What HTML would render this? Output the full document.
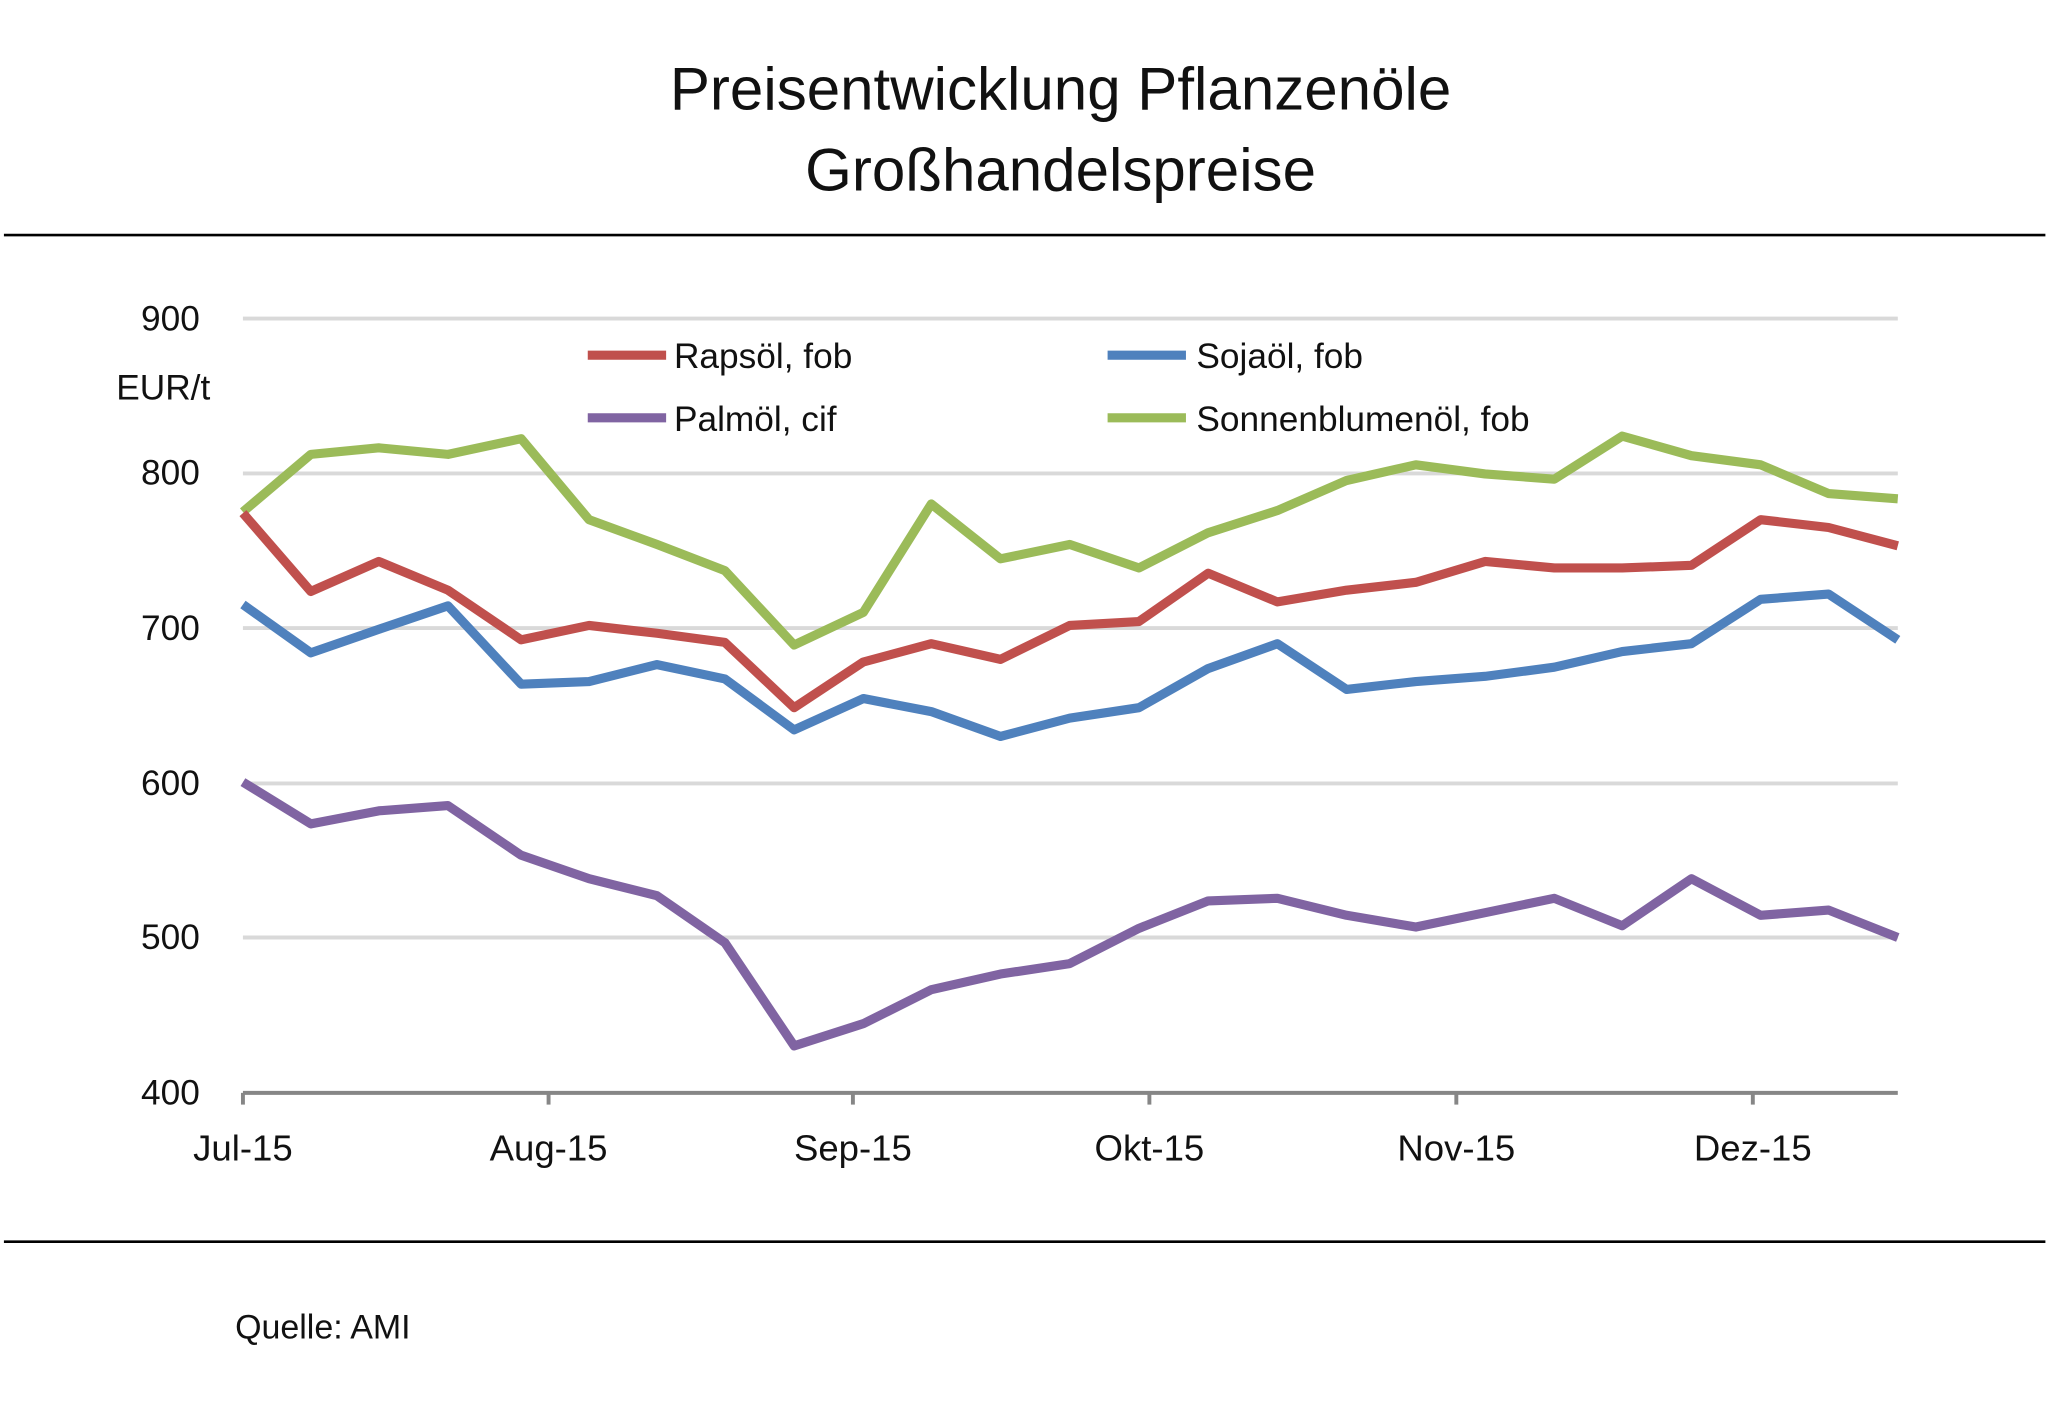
<!DOCTYPE html>
<html><head><meta charset="utf-8"><style>
html,body{margin:0;padding:0;background:#fff;}
svg{display:block;}
text{font-family:"Liberation Sans",sans-serif;fill:#111;}
</style></head><body>
<svg width="2048" height="1401" viewBox="0 0 1568 1073" preserveAspectRatio="none" xmlns="http://www.w3.org/2000/svg">
<rect width="1568" height="1073" fill="#fff"/>
<text x="812" y="84" font-size="46" text-anchor="middle" fill="#222">Preisentwicklung Pflanzenöle</text>
<text x="812" y="146" font-size="46" text-anchor="middle" fill="#222">Großhandelspreise</text>
<line x1="3" y1="180" x2="1566" y2="180" stroke="#000" stroke-width="2"/>
<line x1="3" y1="951" x2="1566" y2="951" stroke="#000" stroke-width="2"/>
<g stroke="#d9d9d9" stroke-width="3">
<line x1="186" y1="244" x2="1453" y2="244"/>
<line x1="186" y1="362.6" x2="1453" y2="362.6"/>
<line x1="186" y1="481" x2="1453" y2="481"/>
<line x1="186" y1="600" x2="1453" y2="600"/>
<line x1="186" y1="718" x2="1453" y2="718"/>
</g>
<g stroke="#868686" stroke-width="3">
<line x1="186" y1="837" x2="1453" y2="837"/>
<line x1="186" y1="837" x2="186" y2="846"/>
<line x1="420" y1="837" x2="420" y2="846"/>
<line x1="653" y1="837" x2="653" y2="846"/>
<line x1="880" y1="837" x2="880" y2="846"/>
<line x1="1115" y1="837" x2="1115" y2="846"/>
<line x1="1342" y1="837" x2="1342" y2="846"/>
</g>
<g font-size="27" text-anchor="end">
<text x="153" y="253">900</text>
<text x="153" y="371">800</text>
<text x="153" y="490">700</text>
<text x="153" y="609">600</text>
<text x="153" y="727">500</text>
<text x="153" y="846">400</text>
</g>
<text x="89" y="306" font-size="27">EUR/t</text>
<g font-size="28" text-anchor="middle">
<text x="186" y="889">Jul-15</text>
<text x="420" y="889">Aug-15</text>
<text x="653" y="889">Sep-15</text>
<text x="880" y="889">Okt-15</text>
<text x="1115" y="889">Nov-15</text>
<text x="1342" y="889">Dez-15</text>
</g>
<g fill="none" stroke-width="7" stroke-linejoin="round">
<polyline stroke="#9bbb59" points="186,392 238,348 290,343 343,348 399,336 451,398 503,417 555,437 608,494 661,469 713,386 766,428 819,417 872,435 925,408 978,391 1031,368 1084,356 1137,363 1190,367 1242,334 1295,349 1348,356 1400,378 1453,382"/>
<polyline stroke="#c0504d" points="186,393 238,453 290,430 343,452 399,490 451,479 503,485 555,492 608,542 661,507 713,493 766,505 819,479 872,476 925,439 978,461 1031,452 1084,446 1137,430 1190,435 1242,435 1295,433 1348,398 1400,404 1453,418"/>
<polyline stroke="#4f81bd" points="186,463 238,500 290,482 343,464 399,524 451,522 503,509 555,520 608,559 661,535 713,545 766,564 819,550 872,542 925,512 978,493 1031,528 1084,522 1137,518 1190,511 1242,499 1295,493 1348,459 1400,455 1453,490"/>
<polyline stroke="#8064a2" points="186,599 238,631 290,621 343,617 399,655 451,673 503,686 555,722 608,801 661,784 713,758 766,746 819,738 872,711 925,690 978,688 1031,701 1084,710 1137,699 1190,688 1242,709 1295,673 1348,701 1400,697 1453,718"/>
</g>
<g stroke-width="7">
<line x1="450" y1="272" x2="510" y2="272" stroke="#c0504d"/>
<line x1="848" y1="272" x2="908" y2="272" stroke="#4f81bd"/>
<line x1="450" y1="320" x2="510" y2="320" stroke="#8064a2"/>
<line x1="848" y1="320" x2="908" y2="320" stroke="#9bbb59"/>
</g>
<g font-size="27">
<text x="516" y="282">Rapsöl, fob</text>
<text x="916" y="282">Sojaöl, fob</text>
<text x="516" y="330">Palmöl, cif</text>
<text x="916" y="330">Sonnenblumenöl, fob</text>
</g>
<text x="180" y="1025" font-size="26">Quelle: AMI</text>
</svg>
</body></html>
